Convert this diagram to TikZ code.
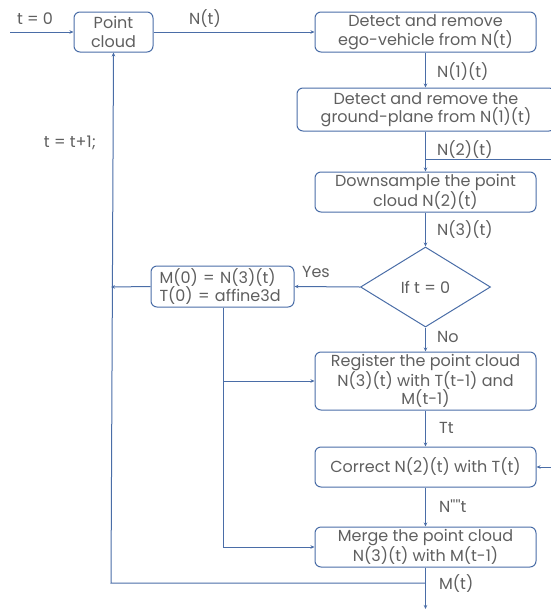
\documentclass[tikz,border=0pt]{standalone}
\usepackage{fontspec}
\setmainfont{Poppins}
\usetikzlibrary{shapes.geometric,arrows.meta}
\definecolor{ln}{HTML}{4A6DA7}
\definecolor{tx}{HTML}{5F5F5F}
\begin{document}
\begin{tikzpicture}[x=1pt,y=-1pt,
  font=\fontsize{16}{18.5}\selectfont, text=tx,
  box/.style={draw=ln, line width=1pt, rounded corners=6pt, align=center, inner sep=0pt},
  conn/.style={draw=ln, line width=1pt},
  arr/.style={conn, -{Stealth[length=4pt,width=3.5pt]}},
  lab/.style={inner sep=1pt}]
\useasboundingbox (0,0) rectangle (550,614);
\node[box, minimum width=79pt, minimum height=40pt] (pc) at (113.5,32) {Point\\cloud};
\node[box, minimum width=221pt, minimum height=40pt] (b1) at (425.5,32) {Detect and remove\\ego-vehicle from N(t)};
\node[box, minimum width=258pt, minimum height=43pt] (b2) at (426,109.5) {Detect and remove the\\ground-plane from N(1)(t)};
\node[box, minimum width=221pt, minimum height=40pt] (b3) at (425.5,192) {Downsample the point\\cloud N(2)(t)};
\node[draw=ln, line width=1pt, diamond, minimum width=130pt, minimum height=80pt, inner sep=0pt] (dia) at (425.5,287) {If t = 0};
\node[box, minimum width=143pt, minimum height=41pt, text width=126pt, align=left] (m0) at (222.5,286.5) {M(0) = N(3)(t)\\T(0) = affine3d};
\node[box, minimum width=221pt, minimum height=58pt] (reg) at (425.5,381) {Register the point cloud\\N(3)(t) with T(t-1) and\\M(t-1)};
\node[box, minimum width=221pt, minimum height=40pt] (cor) at (425.5,467) {Correct N(2)(t) with T(t)};
\node[box, minimum width=221pt, minimum height=40pt] (mer) at (425.5,547) {Merge the point cloud\\N(3)(t) with M(t-1)};

\coordinate (start) at (10,32);
\coordinate (n2r) at (552,159);
\coordinate (n2j) at (425.5,159);
\coordinate (cr) at (552,467);
\coordinate (lt) at (111,287);
\coordinate (lb) at (111,583);
\coordinate (mj) at (425.5,583);
\coordinate (out) at (425.5,609);
\coordinate (vr) at (223,381);
\coordinate (vm) at (223,547);

\draw[arr] (start) -- (pc.west);
\draw[arr] (pc.east) -- (b1.west);
\draw[arr] (b1.south) -- (b2.north -| b1.south);
\draw[arr] (b2.south -| b1.south) -- (b3.north);
\draw[conn] (n2j) -- (n2r);
\draw[arr] (b3.south) -- (dia.north);
\draw[arr] (dia.west) -- (m0.east);
\draw[arr] (m0.west) -- (lt);
\draw[arr] (dia.south) -- (reg.north);
\draw[arr] (reg.south) -- (cor.north);
\draw[arr] (cr) -- (cor.east);
\draw[arr] (cor.south) -- (mer.north);
\draw[arr] (mer.south) -- (out);
\draw[arr] (mj) -- (lb) -- (pc.south);
\draw[conn] (m0.south -| vr) -- (vm);
\draw[arr] (vr) -- (reg.west);
\draw[arr] (vm) -- (mer.west);

\node[lab] at (35,19) {t = 0};
\node[lab] at (205,19) {N(t)};
\node[lab] at (70,143) {t = t+1;};
\node[lab, anchor=west] at (436,72) {N(1)(t)};
\node[lab, anchor=west] at (436,150) {N(2)(t)};
\node[lab, anchor=west] at (436,230) {N(3)(t)};
\node[lab] at (316,272) {Yes};
\node[lab, anchor=west] at (436,337) {No};
\node[lab, anchor=west] at (438,428) {Tt};
\node[lab, anchor=west] at (438,506) {N\textquotesingle\textquotesingle\textquotesingle\textquotesingle t};
\node[lab, anchor=west] at (438,584) {M(t)};
\end{tikzpicture}
\end{document}
